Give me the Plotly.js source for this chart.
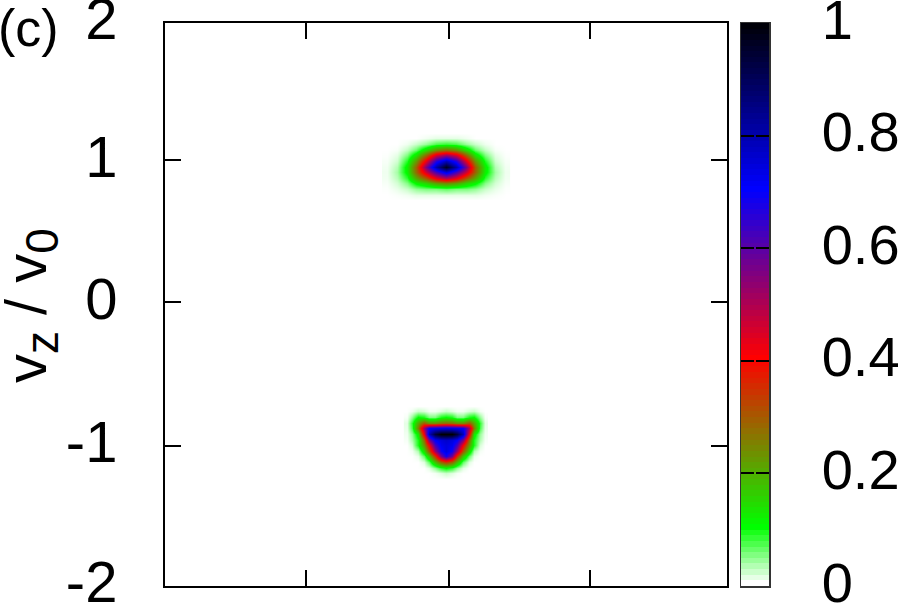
<!DOCTYPE html>
<html>
<head>
<meta charset="utf-8">
<script src="https://cdn.plot.ly/plotly-3.0.1.min.js"></script>
<style>html,body{margin:0;padding:0;background:#fff}</style>
</head>
<body>
<div id="myDiv" style="width:900px;height:607px"></div>
<script>
var tickX = [-1, 0.02, 1.025];
var tickZ = [-2, -1.004, 0.016, 1.025, 2];
var tickZText = ['-2', '-1', '0', '1', '2'];
var barTicks = [0, 0.2, 0.4, 0.6, 0.8, 1];
var barTickText = ['0', '0.2', '0.4', '0.6', '0.8', '1'];

// upper spot
var upperX = [-0.42, -0.35, -0.28, -0.21, -0.14, -0.07, 0, 0.07, 0.14, 0.21, 0.28, 0.35, 0.42];
var upperZ = [1.22, 1.18, 1.14, 1.10, 1.06, 1.02, 0.98, 0.94, 0.90, 0.86, 0.82, 0.78, 0.74];
var upperVal = [
    [0, 0, 0, 0, 0, 0, 0, 0, 0, 0, 0, 0, 0],
    [0, 0, 0, 0, 0.005, 0.01, 0.01, 0.01, 0.005, 0, 0, 0, 0],
    [0, 0, 0.006, 0.02, 0.04, 0.07, 0.08, 0.07, 0.04, 0.02, 0.006, 0, 0],
    [0, 0.003, 0.023, 0.06, 0.14, 0.23, 0.27, 0.23, 0.14, 0.06, 0.023, 0.003, 0],
    [0.001, 0.01, 0.05, 0.13, 0.28, 0.45, 0.52, 0.45, 0.28, 0.13, 0.05, 0.01, 0.001],
    [0.003, 0.018, 0.087, 0.22, 0.43, 0.66, 0.78, 0.66, 0.43, 0.22, 0.087, 0.018, 0.003],
    [0.005, 0.029, 0.118, 0.29, 0.56, 0.80, 0.97, 0.80, 0.56, 0.29, 0.118, 0.029, 0.005],
    [0.006, 0.035, 0.114, 0.28, 0.46, 0.62, 0.74, 0.62, 0.46, 0.28, 0.114, 0.035, 0.006],
    [0.005, 0.027, 0.082, 0.20, 0.30, 0.43, 0.50, 0.43, 0.30, 0.20, 0.082, 0.027, 0.005],
    [0.003, 0.017, 0.048, 0.11, 0.15, 0.21, 0.24, 0.21, 0.15, 0.11, 0.048, 0.017, 0.003],
    [0.001, 0.008, 0.02, 0.04, 0.05, 0.05, 0.06, 0.05, 0.05, 0.04, 0.02, 0.008, 0.001],
    [0, 0.002, 0.005, 0.01, 0.01, 0.01, 0.01, 0.01, 0.01, 0.01, 0.005, 0.002, 0],
    [0, 0, 0, 0, 0, 0, 0, 0, 0, 0, 0, 0, 0]
];

// lower spot
var lowerX = [-0.28, -0.24, -0.20, -0.16, -0.12, -0.08, -0.04, 0, 0.04, 0.08, 0.12, 0.16, 0.20, 0.24, 0.28];
var lowerZ = [-0.72, -0.76, -0.80, -0.84, -0.88, -0.92, -0.96, -1.0, -1.04, -1.08, -1.12, -1.16, -1.20, -1.24];
var lowerVal = [
    [0, 0, 0, 0, 0, 0, 0, 0, 0, 0, 0, 0, 0, 0, 0],
    [0, 0.005, 0.02, 0.015, 0.005, 0.005, 0.012, 0.02, 0.012, 0.005, 0.005, 0.015, 0.02, 0.005, 0],
    [0.003, 0.04, 0.10, 0.09, 0.05, 0.05, 0.09, 0.10, 0.09, 0.05, 0.05, 0.09, 0.10, 0.04, 0.003],
    [0.01, 0.08, 0.20, 0.30, 0.24, 0.24, 0.27, 0.28, 0.27, 0.24, 0.24, 0.30, 0.20, 0.08, 0.01],
    [0.008, 0.07, 0.25, 0.52, 0.70, 0.72, 0.73, 0.74, 0.73, 0.72, 0.70, 0.52, 0.25, 0.07, 0.008],
    [0.005, 0.04, 0.12, 0.42, 0.78, 0.93, 1, 1, 1, 0.93, 0.78, 0.42, 0.12, 0.04, 0.005],
    [0.003, 0.03, 0.09, 0.27, 0.55, 0.70, 0.74, 0.76, 0.74, 0.70, 0.55, 0.27, 0.09, 0.03, 0.003],
    [0, 0.015, 0.09, 0.22, 0.40, 0.62, 0.72, 0.74, 0.72, 0.62, 0.40, 0.22, 0.09, 0.015, 0],
    [0, 0.004, 0.03, 0.14, 0.30, 0.52, 0.68, 0.74, 0.68, 0.52, 0.30, 0.14, 0.03, 0.004, 0],
    [0, 0, 0.008, 0.06, 0.16, 0.34, 0.56, 0.68, 0.56, 0.34, 0.16, 0.06, 0.008, 0, 0],
    [0, 0, 0, 0.012, 0.06, 0.17, 0.28, 0.33, 0.28, 0.17, 0.06, 0.012, 0, 0, 0],
    [0, 0, 0, 0, 0.01, 0.04, 0.08, 0.10, 0.08, 0.04, 0.01, 0, 0, 0, 0],
    [0, 0, 0, 0, 0, 0.004, 0.012, 0.02, 0.012, 0.004, 0, 0, 0, 0, 0],
    [0, 0, 0, 0, 0, 0, 0, 0, 0, 0, 0, 0, 0, 0, 0]
];

var barLevels = [
    [0], [0.01], [0.02], [0.03], [0.04], [0.05], [0.06], [0.07], [0.08], [0.09],
    [0.10], [0.11], [0.12], [0.13], [0.14], [0.15], [0.16], [0.17], [0.18], [0.19],
    [0.20], [0.21], [0.22], [0.23], [0.24], [0.25], [0.26], [0.27], [0.28], [0.29],
    [0.30], [0.31], [0.32], [0.33], [0.34], [0.35], [0.36], [0.37], [0.38], [0.39],
    [0.40], [0.41], [0.42], [0.43], [0.44], [0.45], [0.46], [0.47], [0.48], [0.49],
    [0.50], [0.51], [0.52], [0.53], [0.54], [0.55], [0.56], [0.57], [0.58], [0.59],
    [0.60], [0.61], [0.62], [0.63], [0.64], [0.65], [0.66], [0.67], [0.68], [0.69],
    [0.70], [0.71], [0.72], [0.73], [0.74], [0.75], [0.76], [0.77], [0.78], [0.79],
    [0.80], [0.81], [0.82], [0.83], [0.84], [0.85], [0.86], [0.87], [0.88], [0.89],
    [0.90], [0.91], [0.92], [0.93], [0.94], [0.95], [0.96], [0.97], [0.98], [0.99]
];

var palette = [
    [0, 'rgb(255,255,255)'],
    [0.1, 'rgb(0,255,0)'],
    [0.4, 'rgb(255,0,0)'],
    [0.7, 'rgb(0,0,255)'],
    [1, 'rgb(0,0,0)']
];
var fontName = '"Liberation Sans", Arial, sans-serif';

var upper = {
    type: 'heatmap', x: upperX, y: upperZ, z: upperVal,
    colorscale: palette, zmin: 0, zmax: 1, zsmooth: 'best', showscale: false
};
var lower = {
    type: 'heatmap', x: lowerX, y: lowerZ, z: lowerVal,
    colorscale: palette, zmin: 0, zmax: 1, zsmooth: 'best', showscale: false
};
var bar = {
    type: 'heatmap', x: [0.5], y: barLevels.map(function (r) { return r[0] + 0.005; }), z: barLevels,
    xaxis: 'x2', yaxis: 'y2',
    colorscale: palette, zmin: 0, zmax: 1, showscale: false
};

var layout = {
    width: 900,
    height: 607,
    margin: { l: 0, r: 0, t: 0, b: 0 },
    paper_bgcolor: '#fff',
    plot_bgcolor: '#fff',
    showlegend: false,
    font: { family: fontName, size: 58, color: '#000' },
    xaxis: {
        domain: [165 / 900, 727 / 900],
        range: [-2, 2],
        tickmode: 'array', tickvals: tickX,
        showticklabels: false,
        ticks: 'inside', ticklen: 16, tickwidth: 2, tickcolor: '#000',
        showline: true, linecolor: '#000', linewidth: 2, mirror: 'ticks',
        showgrid: false, zeroline: false
    },
    yaxis: {
        domain: [21 / 607, 584 / 607],
        range: [-2, 2],
        tickmode: 'array', tickvals: tickZ, ticktext: tickZText,
        ticks: 'inside', ticklen: 16, tickwidth: 2, tickcolor: '#000',
        ticklabelstandoff: 34,
        ticklabelshift: -4,
        ticklabeloverflow: 'allow',
        tickfont: { size: 58 },
        showline: true, linecolor: '#000', linewidth: 2, mirror: 'ticks',
        showgrid: false, zeroline: false
    },
    xaxis2: {
        domain: [741 / 900, 769 / 900],
        anchor: 'y2',
        range: [0, 1],
        showticklabels: false, ticks: '',
        showline: true, linecolor: '#333', linewidth: 1.5, mirror: true,
        showgrid: false, zeroline: false
    },
    yaxis2: {
        domain: [21 / 607, 584 / 607],
        anchor: 'x2',
        side: 'right',
        range: [0, 1],
        tickmode: 'array', tickvals: barTicks, ticktext: barTickText,
        ticks: 'inside', ticklen: 13, tickwidth: 2, tickcolor: '#000',
        ticklabelstandoff: 40,
        ticklabelshift: -4,
        ticklabeloverflow: 'allow',
        tickfont: { size: 56 },
        showline: true, linecolor: '#333', linewidth: 1.5, mirror: 'ticks',
        showgrid: false, zeroline: false
    },
    annotations: [{
        text: '(c)', xref: 'paper', yref: 'paper', x: -0.004, y: 579 / 607,
        xanchor: 'left', yanchor: 'middle', showarrow: false,
        font: { size: 52 }
    }, {
        text: 'v<sub><span style="font-size:46px">z</span></sub> / v<sub><span style="font-size:46px">0</span></sub>',
        xref: 'paper', yref: 'paper', x: 30 / 900, y: 301 / 607,
        xanchor: 'center', yanchor: 'middle', textangle: -90, showarrow: false,
        font: { size: 58 }
    }]
};

Plotly.newPlot('myDiv', [upper, lower, bar], layout, { displayModeBar: false, staticPlot: true });
</script>
</body>
</html>
